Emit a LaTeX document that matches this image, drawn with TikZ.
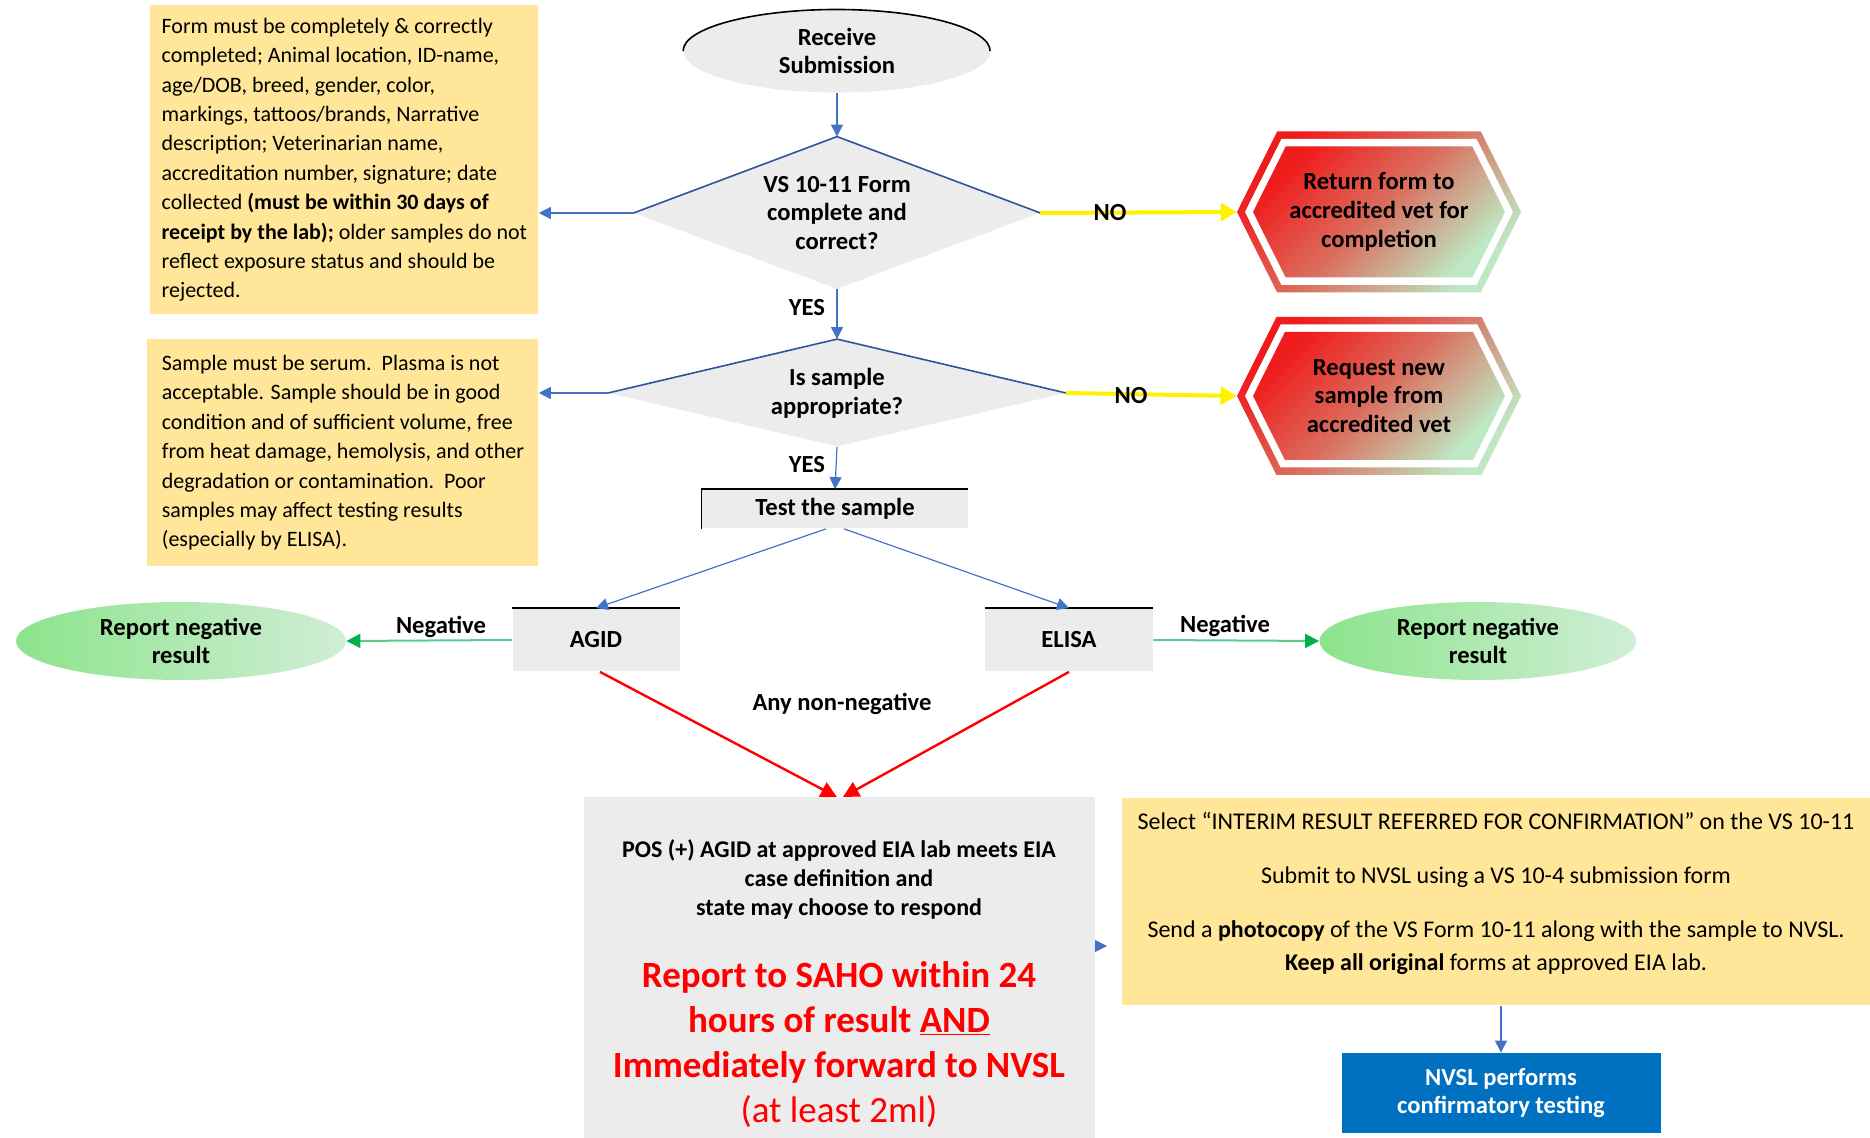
\documentclass[tikz,border=0pt]{standalone}
\usepackage{fontspec}
\setmainfont{Carlito}
\usetikzlibrary{shapes.geometric, shapes.symbols, arrows.meta}
\definecolor{notebg}{RGB}{255,230,153}
\definecolor{boxgray}{RGB}{236,236,236}
\definecolor{linkblue}{RGB}{68,114,196}
\definecolor{edgeblue}{RGB}{47,85,151}
\definecolor{hexred}{RGB}{240,28,28}
\definecolor{hexmid}{RGB}{218,112,96}
\definecolor{hexgreen}{RGB}{190,232,195}
\definecolor{okgreen}{RGB}{0,176,80}
\definecolor{pillA}{RGB}{140,228,140}
\definecolor{pillB}{RGB}{208,238,214}
\definecolor{nvslblue}{RGB}{0,112,192}

\begin{document}
\begin{tikzpicture}[x=0.5pt, y=0.5pt,
	every node/.style={font=\fontsize{11pt}{14.7pt}\selectfont},
	lbl/.style={font=\bfseries\fontsize{12.3pt}{14.4pt}\selectfont},
	note/.style={fill=notebg, align=left},
	grayblock/.style={fill=boxgray, inner sep=0pt},
	flow/.style={draw=linkblue, line width=0.6pt, -{Triangle[width=6pt,length=6pt]}},
	nopath/.style={draw=yellow, line width=2pt, -{Triangle[width=9pt,length=8pt]}},
	negpath/.style={draw=okgreen!65, line width=1pt, -{Triangle[width=7pt,length=7pt,color=okgreen]}},
	hotpath/.style={draw=red, line width=1.2pt, -{Triangle[width=8pt,length=8pt]}},
	hexa/.style={signal, signal to=east and west, signal pointer angle=127, inner sep=0pt,
		top color=hexred, bottom color=hexgreen, middle color=hexmid, shading angle=45},
	hexgap/.style={signal, signal to=east and west, signal pointer angle=127, inner sep=0pt, fill=white},
	]
	\useasboundingbox (0,0) rectangle (1870,-1138);

	\node[ellipse, fill=boxgray, minimum width=153.5pt, minimum height=41.5pt, inner sep=0pt, lbl, align=center] (recv) at (837,-51) {Receive\\Submission};
	\draw[line width=0.8pt] (recv.west) arc[start angle=180, end angle=0, x radius=76.75pt, y radius=20.75pt];

	\node[diamond, aspect=2.67, fill=boxgray, minimum width=203pt, minimum height=76pt, inner sep=0pt, lbl, align=center] (form) at (837,-213) {VS 10-11 Form\\complete and\\correct?};
	\draw[edgeblue, line width=0.8pt] (form.west) -- (form.north) -- (form.east);
	\node[diamond, aspect=4.27, fill=boxgray, minimum width=228.5pt, minimum height=53.5pt, inner sep=0pt, lbl, align=center] (samp) at (837,-393) {Is sample\\appropriate?};
	\draw[edgeblue, line width=0.8pt] (samp.west) -- (samp.north) -- (samp.east);

	\node[note, minimum width=194pt, minimum height=154.5pt, anchor=north west] (formnote) at (150,-5) {Form must be completely \& correctly\\
		completed; Animal location, ID-name,\\
		age/DOB, breed, gender, color,\\
		markings, tattoos/brands, Narrative\\
		description; Veterinarian name,\\
		accreditation number, signature; date\\
		collected \textbf{(must be within 30 days of}\\
		\textbf{receipt by the lab);} older samples do not\\
		reflect exposure status and should be\\
		rejected.};
	\node[note, minimum width=195.5pt, minimum height=113.5pt, anchor=north west] (sampnote) at (147,-339) {Sample must be serum.\ \ Plasma is not\\
		acceptable. Sample should be in good\\
		condition and of sufficient volume, free\\
		from heat damage, hemolysis, and other\\
		degradation or contamination.\ \ Poor\\
		samples may affect testing results\\
		(especially by ELISA).};

	\node[hexa, minimum width=142pt, minimum height=80.5pt] (retframe) at (1379,-212) {};
	\node[hexgap, minimum width=134pt, minimum height=73pt] at (1379,-212) {};
	\node[hexa, minimum width=126pt, minimum height=65.5pt, lbl, align=center] (ret) at (1379,-212) {Return form to\\accredited vet for\\completion};
	\node[hexa, minimum width=142pt, minimum height=79pt] (reqframe) at (1379,-396) {};
	\node[hexgap, minimum width=134pt, minimum height=71.5pt] at (1379,-396) {};
	\node[hexa, minimum width=126pt, minimum height=64pt, lbl, align=center] (req) at (1379,-396) {Request new\\sample from\\accredited vet};

	\node[grayblock, minimum width=133pt, minimum height=19.5pt, lbl] (test) at (835,-509) {Test the sample};
	\draw[line width=0.8pt] (test.south west) -- (test.north west) -- (test.north east);
	\node[grayblock, minimum width=83.5pt, minimum height=31.5pt, lbl] (agid) at (596,-640) {AGID};
	\draw[line width=0.8pt] (agid.north west) -- (agid.north east);
	\node[grayblock, minimum width=84pt, minimum height=31.5pt, lbl] (elisa) at (1069,-640) {ELISA};
	\draw[line width=0.8pt] (elisa.north west) -- (elisa.north east);

	\node[ellipse, left color=pillA, right color=pillB, minimum width=165pt, minimum height=39pt, inner sep=0pt, lbl, align=center] (negL) at (181,-641) {Report negative\\result};
	\node[ellipse, left color=pillA, right color=pillB, minimum width=158.5pt, minimum height=39pt, inner sep=0pt, lbl, align=center] (negR) at (1478,-641) {Report negative\\result};

	\node[fill=boxgray, minimum width=255.5pt, minimum height=170.5pt, anchor=north west] (big) at (584,-797) {};
	\node[align=center, anchor=north, font=\bfseries\fontsize{12pt}{14.4pt}\selectfont] (posnote) at (839,-833) {POS (+) AGID at approved EIA lab meets EIA\\case definition and\\state may choose to respond};
	\node[align=center, anchor=north, text=red, font=\bfseries\fontsize{18.5pt}{22.5pt}\selectfont] (saho) at (839,-954) {Report to SAHO within 24\\hours of result \underline{AND}\\Immediately forward to NVSL\\\mdseries(at least 2ml)};

	\node[fill=notebg, minimum width=374pt, minimum height=103.5pt, anchor=north west] (sel) at (1122,-798) {};
	\node[align=center, anchor=north, font=\fontsize{12pt}{16.5pt}\selectfont] (seltxt) at (1496,-805) {Select “INTERIM RESULT REFERRED FOR CONFIRMATION” on the VS 10-11\\[10.5pt]
		Submit to NVSL using a VS 10-4 submission form\\[10.5pt]
		Send a \textbf{photocopy} of the VS Form 10-11 along with the sample to NVSL.\\
		\textbf{Keep all original} forms at approved EIA lab.};
	\node[fill=nvslblue, text=white, lbl, align=center, minimum width=159.5pt, minimum height=40pt] (nvsl) at (1501,-1093) {NVSL performs\\confirmatory testing};

	\draw[flow] (recv.south) -- (form.north);
	\draw[flow] (form.west) -- (form.west -| formnote.east);
	\draw[nopath] (form.east) -- (retframe.west);
	\node[lbl] (no1) at (1110,-213) {NO};
	\draw[flow] (form.south) -- (samp.north);
	\node[lbl, anchor=east] (yes1) at (832,-308) {YES};
	\draw[flow] (samp.west) -- (samp.west -| sampnote.east);
	\draw[nopath] (samp.east) -- (reqframe.west);
	\node[lbl] (no2) at (1131,-396) {NO};
	\draw[flow] (samp.south) -- (test.north);
	\node[lbl, anchor=east] (yes2) at (832,-465) {YES};
	\draw[flow] ([xshift=-4.5pt]test.south) -- (agid.north);
	\draw[flow] ([xshift=4.5pt]test.south) -- (elisa.north);
	\draw[negpath] (agid.west) -- (negL.east);
	\node[lbl] (negtxtL) at (441,-627) {Negative};
	\draw[negpath] (elisa.east) -- (negR.west);
	\node[lbl] (negtxtR) at (1225,-626) {Negative};
	\draw[hotpath] ([xshift=2pt]agid.south) -- ([xshift=-1.5pt]big.north);
	\draw[hotpath] (elisa.south) -- ([xshift=1.5pt]big.north);
	\node[lbl] (anyneg) at (842,-704) {Any non-negative};
	\coordinate (hint) at (1107,-946);
	\draw[flow] (big.east |- hint) -- (hint);
	\draw[flow] (nvsl.north |- sel.south) -- (nvsl.north);
\end{tikzpicture}
\end{document}
